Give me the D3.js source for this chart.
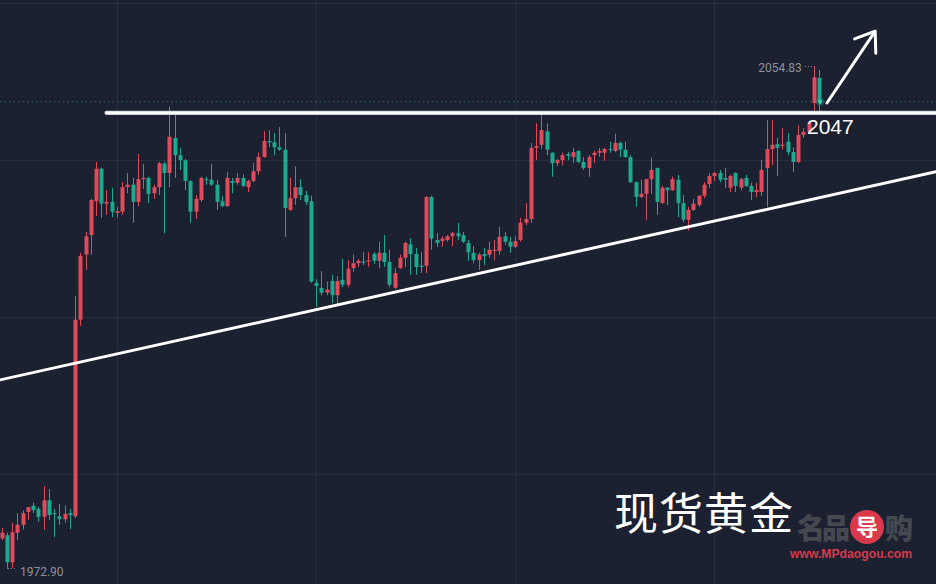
<!DOCTYPE html>
<html><head><meta charset="utf-8">
<script src="https://cdn.jsdelivr.net/npm/d3@7"></script>
<style>html,body{margin:0;padding:0;background:#1b2130;}svg{display:block;}</style>
</head><body>
<svg id="c" width="936" height="584"></svg>
<script>
// ---- data (spot gold candles, oldest -> newest) ----
const opens = [1977.9,1978.4,1974.0,1978.8,1980.1,1982.2,1983.2,1982.7,1981.4,1984.1,1982.0,1981.5,1981.0,1982.0,1981.5,2013.5,2024.1,2027.3,2032.8,2038.1,
2032.4,2032.7,2030.9,2031.1,2035.1,2035.5,2032.7,2036.4,2036.6,2034.1,2035.1,2038.9,2037.4,2043.1,2040.3,2039.5,2036.1,2031.1,2033.0,2036.4,
2036.3,2035.5,2032.8,2032.0,2036.1,2035.8,2036.6,2035.1,2036.1,2037.7,2040.0,2042.6,2042.4,2041.6,2041.2,2031.4,2033.3,2035.1,2033.8,2032.8,
2019.5,2018.7,2017.9,2019.8,2017.5,2020.0,2019.2,2021.9,2022.7,2023.0,2023.0,2024.2,2023.1,2024.4,2022.9,2018.7,2021.9,2023.6,2025.8,2024.2,
2022.3,2022.3,2033.5,2026.5,2026.3,2026.5,2027.1,2027.6,2027.3,2026.0,2024.4,2023.2,2024.2,2024.1,2024.7,2024.7,2027.1,2026.2,2025.4,2026.5,
2029.3,2029.9,2041.5,2042.0,2044.2,2040.7,2039.0,2039.5,2040.5,2040.0,2041.0,2039.2,2038.2,2040.3,2040.7,2040.7,2041.3,2041.0,2042.3,2041.2,
2040.0,2035.9,2033.5,2034.0,2036.4,2038.2,2032.5,2035.0,2034.6,2036.3,2032.5,2029.8,2031.4,2032.2,2033.7,2035.6,2036.9,2037.4,2036.6,2035.0,
2037.4,2035.0,2036.6,2035.3,2034.3,2034.3,2038.2,2041.3,2042.1,2041.8,2042.5,2040.8,2039.2,2043.6,2044.1,2048.8,2052.9];
const highs = [1979.6,1978.8,1980.4,1982.0,1982.5,1983.0,1983.7,1983.0,1986.4,1985.9,1982.7,1983.5,1983.3,1982.7,2017.4,2024.4,2027.8,2033.2,2039.2,2038.3,
2034.6,2035.0,2031.9,2035.9,2037.4,2036.6,2040.5,2038.9,2036.8,2035.5,2039.2,2039.2,2048.2,2047.2,2041.5,2039.7,2036.2,2033.8,2036.8,2036.8,
2038.9,2036.3,2033.7,2037.6,2036.6,2037.4,2037.2,2036.3,2039.0,2040.7,2044.2,2044.4,2043.9,2044.9,2043.9,2036.6,2038.5,2036.4,2034.5,2033.7,
2020.1,2021.4,2019.7,2020.8,2020.6,2023.4,2023.2,2024.1,2023.4,2024.5,2024.5,2024.5,2026.2,2027.3,2024.9,2021.9,2024.1,2026.2,2026.8,2025.2,
2024.5,2033.6,2033.7,2027.6,2027.1,2027.3,2027.8,2029.3,2027.8,2026.5,2025.5,2024.4,2025.2,2026.2,2026.5,2028.6,2027.8,2027.0,2027.1,2030.1,
2032.5,2042.3,2045.5,2047.0,2045.5,2040.8,2039.7,2040.7,2040.8,2041.5,2041.1,2040.0,2040.3,2041.0,2041.5,2041.5,2042.5,2043.8,2042.5,2042.5,
2040.3,2036.0,2036.3,2036.5,2039.9,2038.3,2035.3,2035.1,2036.8,2037.1,2033.8,2031.9,2033.2,2033.8,2035.9,2037.4,2037.6,2037.9,2038.2,2037.1,
2037.5,2036.6,2037.1,2035.8,2035.8,2039.5,2046.0,2046.0,2043.1,2044.7,2043.9,2041.6,2045.2,2044.7,2045.9,2054.83,2054.2];
const lows = [1977.6,1972.9,1973.1,1977.6,1979.3,1980.9,1982.0,1980.6,1979.3,1980.9,1978.1,1980.1,1980.4,1979.4,1981.2,2012.5,2021.6,2024.1,2030.4,2030.1,
2030.6,2030.2,2030.1,2030.6,2034.1,2029.3,2032.0,2034.8,2032.5,2033.2,2033.8,2027.6,2035.1,2036.6,2037.9,2034.6,2029.3,2029.9,2032.7,2035.5,
2035.3,2031.4,2031.9,2031.9,2034.1,2035.5,2035.1,2034.3,2035.9,2037.1,2039.9,2041.6,2040.3,2041.0,2027.0,2031.2,2032.2,2033.0,2032.2,2019.5,
2015.6,2017.5,2017.5,2016.2,2015.9,2018.8,2018.8,2021.3,2022.1,2022.4,2022.1,2022.6,2021.9,2022.1,2018.8,2018.5,2021.8,2022.1,2020.8,2020.8,
2021.1,2021.1,2024.9,2025.4,2025.4,2026.2,2025.5,2026.5,2026.0,2023.1,2022.7,2021.6,2022.4,2023.6,2023.2,2024.1,2025.7,2024.4,2025.2,2026.2,
2028.9,2029.3,2039.5,2041.3,2040.3,2036.8,2038.5,2038.7,2039.5,2039.0,2039.0,2037.9,2036.8,2039.0,2040.0,2039.4,2040.7,2040.8,2040.0,2039.9,
2035.8,2031.9,2033.3,2029.8,2034.0,2030.6,2032.4,2032.2,2034.5,2030.2,2029.4,2028.0,2031.2,2031.9,2033.3,2035.0,2036.1,2035.9,2035.0,2034.3,
2034.3,2034.6,2035.1,2033.0,2033.5,2033.7,2031.9,2038.7,2036.9,2041.2,2040.3,2037.6,2039.0,2043.1,2043.9,2047.2,2047.2];
const closes = [1978.8,1974.0,1978.9,1980.1,1982.0,1983.0,1982.5,1981.4,1984.1,1981.7,1981.9,1981.0,1981.9,1981.7,2013.5,2023.9,2027.1,2033.0,2038.1,2032.4,
2032.7,2031.1,2031.2,2035.1,2035.5,2032.7,2036.4,2036.6,2034.0,2035.1,2039.0,2037.4,2043.3,2040.3,2039.5,2036.1,2031.1,2033.2,2036.6,2036.3,
2035.5,2032.7,2032.0,2036.6,2035.8,2036.6,2035.3,2036.1,2037.7,2040.0,2042.6,2042.4,2041.6,2041.2,2031.7,2033.3,2035.1,2033.8,2032.7,2019.7,
2019.0,2017.9,2018.4,2017.5,2019.8,2019.2,2021.8,2022.7,2023.1,2022.8,2023.2,2023.1,2024.4,2022.9,2019.2,2021.1,2023.6,2026.0,2024.2,2022.1,
2022.1,2033.5,2026.7,2026.0,2026.7,2027.1,2027.6,2027.1,2026.2,2024.5,2023.2,2024.1,2023.9,2024.9,2024.9,2027.0,2026.2,2025.4,2026.3,2029.3,
2029.9,2041.5,2041.8,2044.4,2041.2,2039.0,2039.5,2040.3,2040.2,2040.8,2039.2,2038.2,2040.0,2040.7,2041.0,2041.3,2041.2,2042.3,2041.2,2040.0,
2035.9,2033.5,2034.0,2036.4,2037.9,2032.7,2035.0,2034.6,2036.4,2032.5,2029.8,2031.4,2032.4,2033.7,2035.5,2036.9,2037.4,2036.3,2036.3,2036.9,
2035.3,2036.4,2035.3,2034.3,2034.6,2037.9,2041.3,2042.0,2041.5,2042.0,2040.8,2039.2,2043.6,2044.1,2045.6,2053.0,2049.0];

const priceGrid = [1988.4, 2014.0, 2039.5, 2065.1];   // horizontal grid levels
const timeGrid  = [22, 60, 98, 136];                  // vertical grid at candle index
const highLabel = "2054.83", lowLabel = "1972.90";
const resistanceLevel = 2047.2, resistanceStart = 20, resistanceText = "2047";
const trendLine = [[-0.32, 2003.7], [178.3, 2037.6]]; // [index, price]
const arrowPts  = [[157.5, 2048.8], [166.7, 2060.5]];
const title = "现货黄金";
const wmChars = ["名品", "导", "购"], wmUrl = "www.MPdaogou.com";

// ---- drawing ----
const W = 936, H = 584;
const svg = d3.select("#c");
const UP = "#e04b5c", DN = "#1fa88f";
const x = d3.scaleLinear().domain([0, 156]).range([1.7, 819.1]);
const y = d3.scaleLinear().domain([1972.90, 2054.83]).range([569, 66]);

svg.append("rect").attr("width", W).attr("height", H).attr("fill", "#1b2130");

const grid = svg.append("g").attr("stroke", "#262d3c").attr("stroke-width", 1);
grid.selectAll("line.h").data(priceGrid).join("line").attr("class","h")
  .attr("x1", 0).attr("x2", W).attr("y1", d => Math.round(y(d)) + 0.5).attr("y2", d => Math.round(y(d)) + 0.5);
grid.selectAll("line.v").data(timeGrid).join("line").attr("class","v")
  .attr("y1", 0).attr("y2", H).attr("x1", d => Math.round(x(d)) + 0.5).attr("x2", d => Math.round(x(d)) + 0.5);

const lastClose = closes[closes.length - 1];
svg.append("line").attr("x1", 0).attr("x2", W)
  .attr("y1", y(lastClose)).attr("y2", y(lastClose))
  .attr("stroke", "#2f6f6c").attr("stroke-width", 1).attr("stroke-dasharray", "1.5,3");

const candles = d3.range(opens.length).map(i => ({i, o: opens[i], h: highs[i], l: lows[i], c: closes[i]}));
const cg = svg.append("g");
const g = cg.selectAll("g").data(candles).join("g")
  .attr("fill", d => d.c >= d.o ? UP : DN).attr("stroke", d => d.c >= d.o ? UP : DN);
g.append("line").attr("x1", d => Math.round(x(d.i)) + 0.5).attr("x2", d => Math.round(x(d.i)) + 0.5)
  .attr("y1", d => y(d.h)).attr("y2", d => y(d.l)).attr("stroke-width", 1);
g.append("rect").attr("stroke", "none")
  .attr("x", d => Math.round(x(d.i)) - 1.5).attr("width", 4)
  .attr("y", d => y(Math.max(d.o, d.c)))
  .attr("height", d => Math.max(1, Math.abs(y(d.o) - y(d.c))));

// last price dot
svg.append("circle").attr("cx", x(156) + 1).attr("cy", y(lastClose)).attr("r", 4)
  .attr("fill", DN).attr("opacity", 0.35);
svg.append("circle").attr("cx", x(156) + 1).attr("cy", y(lastClose)).attr("r", 2)
  .attr("fill", "#3fd1b0");

// high / low labels
const hiIdx = highs.indexOf(d3.max(highs)), loIdx = lows.indexOf(d3.min(lows));
svg.append("line").attr("x1", x(hiIdx) - 9).attr("x2", x(hiIdx) - 1)
  .attr("y1", y(highs[hiIdx]) + 0.5).attr("y2", y(highs[hiIdx]) + 0.5)
  .attr("stroke", "#8c929c").attr("stroke-dasharray", "1,2");
svg.append("text").attr("x", x(hiIdx) - 12).attr("y", y(highs[hiIdx]) + 6)
  .attr("text-anchor", "end").attr("fill", "#8c929c")
  .attr("font-family", "Roboto, 'Liberation Sans', sans-serif").attr("font-size", 12).text(highLabel);
svg.append("line").attr("x1", x(loIdx) + 1).attr("x2", x(loIdx) + 10)
  .attr("y1", y(lows[loIdx]) - 0.5).attr("y2", y(lows[loIdx]) - 0.5)
  .attr("stroke", "#8c929c").attr("stroke-dasharray", "1,2");
svg.append("text").attr("x", x(loIdx) + 13).attr("y", y(lows[loIdx]) + 7)
  .attr("fill", "#8c929c")
  .attr("font-family", "Roboto, 'Liberation Sans', sans-serif").attr("font-size", 12).text(lowLabel);

// drawn annotations
const ann = svg.append("g").attr("stroke", "#ffffff").attr("fill", "none").attr("stroke-linecap", "round");
ann.append("line").attr("x1", x(resistanceStart)).attr("x2", W)
  .attr("y1", y(resistanceLevel)).attr("y2", y(resistanceLevel))
  .attr("stroke", "#bfc3c9").attr("stroke-width", 4.2);
ann.append("line").attr("x1", x(resistanceStart)).attr("x2", W)
  .attr("y1", y(resistanceLevel)).attr("y2", y(resistanceLevel))
  .attr("stroke-width", 2.6);
ann.append("line")
  .attr("x1", x(trendLine[0][0])).attr("y1", y(trendLine[0][1]))
  .attr("x2", x(trendLine[1][0])).attr("y2", y(trendLine[1][1]))
  .attr("stroke-width", 3);
const ax1 = x(arrowPts[0][0]), ay1 = y(arrowPts[0][1]), ax2 = x(arrowPts[1][0]), ay2 = y(arrowPts[1][1]);
const ang = Math.atan2(ay2 - ay1, ax2 - ax1), hl = 22, spread = 0.62;
ann.append("path").attr("stroke-width", 3).attr("stroke-linejoin", "round")
  .attr("d", `M${ax1},${ay1}L${ax2},${ay2}` +
    `M${ax2 - hl * Math.cos(ang - spread)},${ay2 - hl * Math.sin(ang - spread)}L${ax2},${ay2}` +
    `L${ax2 - hl * Math.cos(ang + spread)},${ay2 - hl * Math.sin(ang + spread)}`);

svg.append("text").attr("x", 807).attr("y", y(resistanceLevel) + 21)
  .attr("fill", "#ffffff").attr("font-family", "'Liberation Sans', Arial, sans-serif")
  .attr("font-size", 21).text(resistanceText);

// watermark
const wm = svg.append("g");
wm.append("text").attr("x", 797).attr("y", 539).attr("fill", "#45484f")
  .attr("font-family", "'Noto Sans CJK SC', sans-serif").attr("font-weight", 900)
  .attr("font-size", 28).attr("letter-spacing", -3).text(wmChars[0]);
wm.append("circle").attr("cx", 867).attr("cy", 527).attr("r", 17).attr("fill", "#d8394b");
wm.append("text").attr("x", 867).attr("y", 535).attr("text-anchor", "middle").attr("fill", "#ffffff")
  .attr("font-family", "'Noto Sans CJK SC', sans-serif").attr("font-weight", 700)
  .attr("font-size", 22).text(wmChars[1]);
wm.append("text").attr("x", 885).attr("y", 539).attr("fill", "#45484f")
  .attr("font-family", "'Noto Sans CJK SC', sans-serif").attr("font-weight", 900)
  .attr("font-size", 28).text(wmChars[2]);
wm.append("text").attr("x", 790).attr("y", 558).attr("fill", "#d8394b")
  .attr("font-family", "'Liberation Sans', Arial, sans-serif").attr("font-weight", 700)
  .attr("font-size", 12).attr("textLength", 122).attr("lengthAdjust", "spacingAndGlyphs").text(wmUrl);

// title
svg.append("text").attr("x", 614).attr("y", 530)
  .attr("fill", "#ffffff").attr("font-family", "'Noto Sans CJK SC', sans-serif")
  .attr("font-size", 44).attr("letter-spacing", 1).text(title);
</script>
</body></html>
